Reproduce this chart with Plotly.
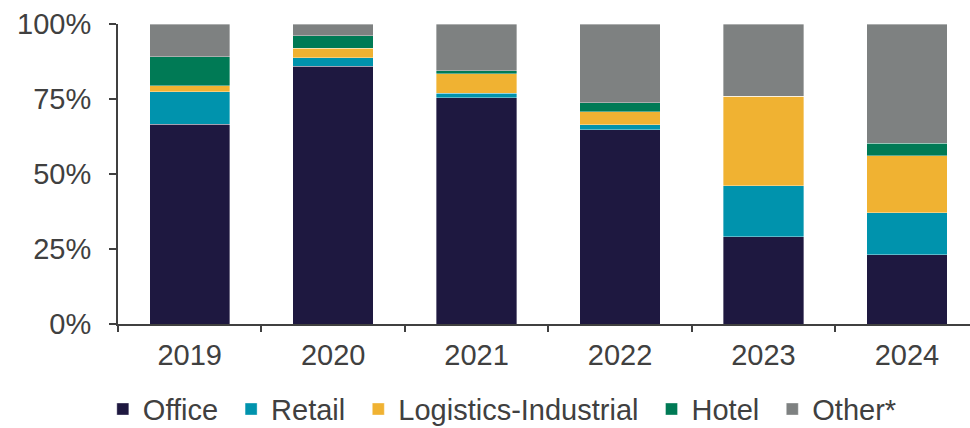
import plotly.graph_objects as go

years = ["2019", "2020", "2021", "2022", "2023", "2024"]
office = [66.6, 86.0, 75.4, 64.8, 29.1, 23.1]
retail = [10.8, 2.7, 1.5, 1.6, 17.0, 14.0]
logistics = [2.0, 3.3, 6.5, 4.4, 29.9, 19.0]
hotel = [9.7, 4.1, 1.0, 3.0, 0.0, 4.1]
other = [10.9, 3.9, 15.6, 26.2, 24.0, 39.8]
y_ticks = [0, 25, 50, 75, 100]
y_labels = ["0%", "25%", "50%", "75%", "100%"]

series = [
    ("Office", office, "#1E1840"),
    ("Retail", retail, "#0093AD"),
    ("Logistics-Industrial", logistics, "#F0B232"),
    ("Hotel", hotel, "#007A55"),
    ("Other*", other, "#7E8181"),
]

fig = go.Figure()
for name, vals, col in series:
    fig.add_trace(go.Bar(
        x=years, y=vals, name=name + "\u00a0",
        marker=dict(color=col, line=dict(color="rgba(255,255,255,0.6)", width=0.6)),
        width=0.56,
    ))

font_family = "Liberation Sans, Arial, sans-serif"
fig.update_layout(
    barmode="stack",
    width=970, height=428,
    margin=dict(l=118, r=0, t=24, b=104, autoexpand=False),
    paper_bgcolor="white", plot_bgcolor="white",
    font=dict(family=font_family, size=29, color="#404040"),
    showlegend=True,
    legend=dict(orientation="h", xref="container", x=0.106, xanchor="left",
                yref="container", y=0.044, yanchor="middle",
                font=dict(size=29, color="#404040"), itemwidth=30,
                traceorder="normal", tracegroupgap=0),
    xaxis=dict(
        type="category", range=[-0.5, 5.44], automargin=False,
        showline=True, linecolor="#404040", linewidth=2,
        ticks="outside", tickson="boundaries", ticklen=6, tickcolor="#404040", tickwidth=2,
        tickfont=dict(size=29, color="#404040"), showgrid=False,
        ticklabelstandoff=4,
    ),
    yaxis=dict(
        range=[0, 100], tickmode="array", tickvals=y_ticks, ticktext=y_labels,
        automargin=False,
        showline=True, linecolor="#404040", linewidth=2,
        ticks="outside", ticklen=7, tickcolor="#404040", tickwidth=2,
        tickfont=dict(size=29, color="#404040"), showgrid=False, zeroline=False,
        ticklabelstandoff=12,
    ),
)

fig.write_html("out.html")
